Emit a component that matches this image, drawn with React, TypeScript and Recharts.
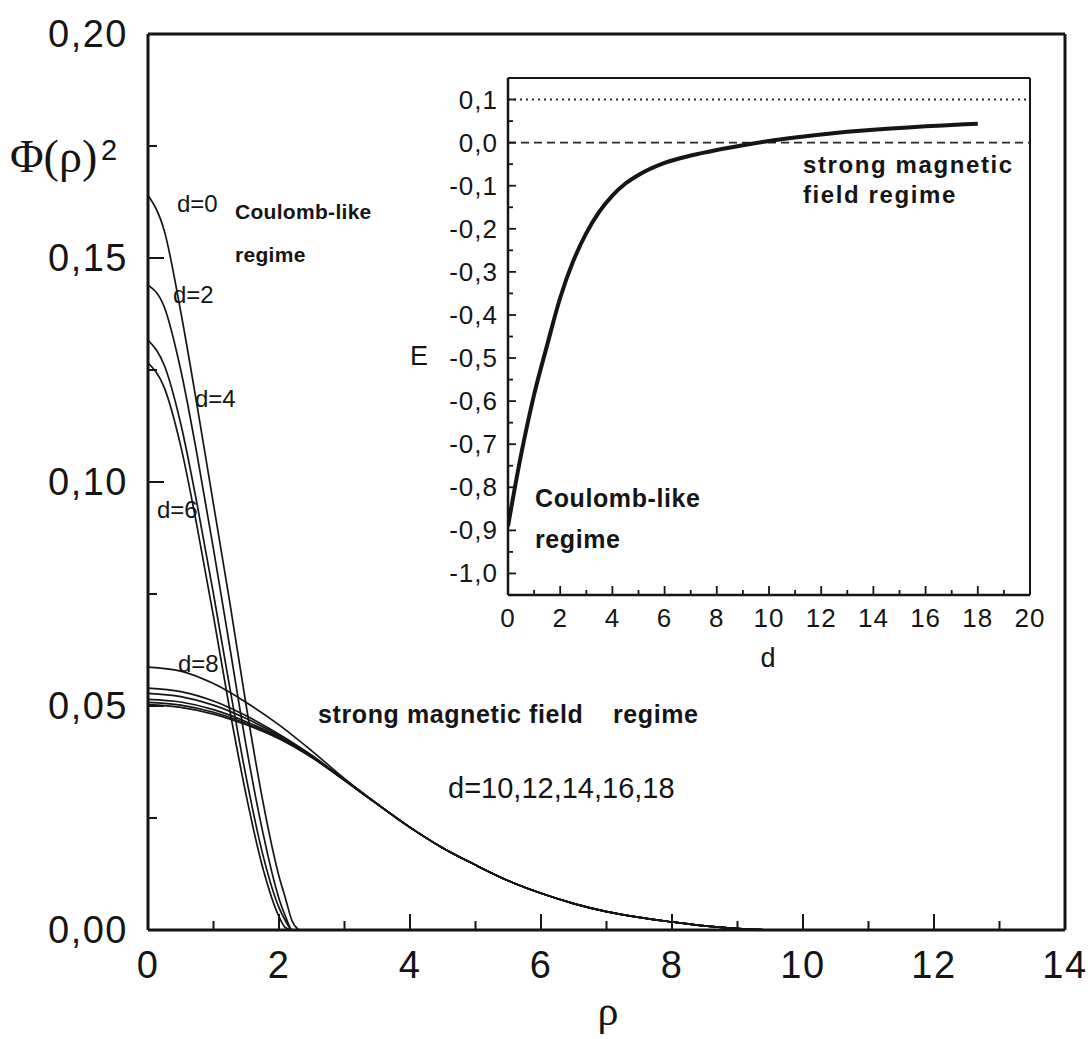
import React from 'react';
import { LineChart, Line, XAxis, YAxis, ReferenceLine } from 'recharts';

// ---------- Main chart data: |Phi(rho)|^2 for different d ----------
const rhoNarrow = [0, 0.25, 0.5, 0.75, 1.0, 1.25, 1.5, 1.75, 2.0, 2.1, 2.2, 2.3];
const phiD0 = [0.164, 0.156, 0.138, 0.117, 0.095, 0.073, 0.050, 0.029, 0.012, 0.007, 0.002, 0.0];
const phiD2 = [0.144, 0.139, 0.125, 0.106, 0.085, 0.063, 0.041, 0.022, 0.007, 0.003, 0.0, 0.0];
const phiD4 = [0.1317, 0.126, 0.113, 0.095, 0.075, 0.054, 0.034, 0.017, 0.005, 0.002, 0.0, 0.0];
const phiD6 = [0.1266, 0.121, 0.108, 0.090, 0.070, 0.049, 0.030, 0.014, 0.003, 0.0005, 0.0, 0.0];

const rhoBroad = [0, 0.5, 1, 1.5, 2, 2.5, 3, 3.5, 4, 4.5, 5, 5.5, 6, 6.5, 7, 7.5, 8, 8.5, 9, 9.5];
const phiD8 = [0.0587, 0.0578, 0.0550, 0.0508, 0.0458, 0.0400, 0.0338, 0.0282, 0.0229, 0.0183, 0.0145, 0.0110, 0.0082, 0.0059, 0.0041, 0.0028, 0.0018, 0.0009, 0.0003, 0.0];
const phiD10 = [0.0540, 0.0532, 0.0511, 0.0478, 0.0437, 0.0390, 0.0335, 0.0281, 0.0229, 0.0183, 0.0145, 0.0110, 0.0082, 0.0059, 0.0041, 0.0028, 0.0018, 0.0009, 0.0003, 0.0];
const phiD12 = [0.0528, 0.0521, 0.0502, 0.0472, 0.0434, 0.0388, 0.0335, 0.0281, 0.0229, 0.0183, 0.0145, 0.0110, 0.0082, 0.0059, 0.0041, 0.0028, 0.0018, 0.0009, 0.0003, 0.0];
const phiD14 = [0.0515, 0.0509, 0.0492, 0.0465, 0.0431, 0.0387, 0.0334, 0.0281, 0.0229, 0.0183, 0.0145, 0.0110, 0.0082, 0.0059, 0.0041, 0.0028, 0.0018, 0.0009, 0.0003, 0.0];
const phiD16 = [0.0508, 0.0502, 0.0486, 0.0461, 0.0429, 0.0386, 0.0334, 0.0281, 0.0229, 0.0183, 0.0145, 0.0110, 0.0082, 0.0059, 0.0041, 0.0028, 0.0018, 0.0009, 0.0003, 0.0];
const phiD18 = [0.0503, 0.0497, 0.0482, 0.0458, 0.0427, 0.0385, 0.0334, 0.0281, 0.0229, 0.0183, 0.0145, 0.0110, 0.0082, 0.0059, 0.0041, 0.0028, 0.0018, 0.0009, 0.0003, 0.0];

const mainXTicks = [0, 1, 2, 3, 4, 5, 6, 7, 8, 9, 10, 11, 12, 13, 14];
const mainYTicks = [0, 0.025, 0.05, 0.075, 0.1, 0.125, 0.15, 0.175, 0.2];

// ---------- Inset data: E(d) ----------
const dVals = [0, 0.5, 1, 1.5, 2, 2.5, 3, 3.5, 4, 4.5, 5, 6, 7, 8, 9, 10, 11, 12, 13, 14, 15, 16, 17, 18];
const eVals = [-0.89, -0.725, -0.585, -0.47, -0.36, -0.275, -0.21, -0.16, -0.123, -0.095, -0.075, -0.047, -0.030, -0.017, -0.006, 0.004, 0.012, 0.019, 0.025, 0.030, 0.034, 0.038, 0.041, 0.044];
const insetXTicks = [0, 1, 2, 3, 4, 5, 6, 7, 8, 9, 10, 11, 12, 13, 14, 15, 16, 17, 18, 19, 20];
const insetYTicks = [-1.0, -0.95, -0.9, -0.85, -0.8, -0.75, -0.7, -0.65, -0.6, -0.55, -0.5, -0.45, -0.4, -0.35, -0.3, -0.25, -0.2, -0.15, -0.1, -0.05, 0.0, 0.05, 0.1];

const SANS = '"Liberation Sans", Arial, Helvetica, sans-serif';
const SERIF = '"Liberation Serif", "DejaVu Serif", "Times New Roman", serif';
const INK = '#151515';

const toPts = (xs: number[], ys: number[]) => xs.map((x, i) => ({ x, y: ys[i] }));
const isMajor = (v: number, step: number) => Math.abs(v / step - Math.round(v / step)) < 1e-6;

const mainSeries = [
  { key: 'd0', data: toPts(rhoNarrow, phiD0) },
  { key: 'd2', data: toPts(rhoNarrow, phiD2) },
  { key: 'd4', data: toPts(rhoNarrow, phiD4) },
  { key: 'd6', data: toPts(rhoNarrow, phiD6) },
  { key: 'd8', data: toPts(rhoBroad, phiD8) },
  { key: 'd10', data: toPts(rhoBroad, phiD10) },
  { key: 'd12', data: toPts(rhoBroad, phiD12) },
  { key: 'd14', data: toPts(rhoBroad, phiD14) },
  { key: 'd16', data: toPts(rhoBroad, phiD16) },
  { key: 'd18', data: toPts(rhoBroad, phiD18) },
];
const insetData = toPts(dVals, eVals);

const MainYTick = (p: any) => {
  const { x, y, payload } = p;
  const v = payload.value as number;
  const ax = x + 20;
  const major = isMajor(v, 0.05);
  return (
    <g>
      <line x1={ax} x2={ax + (major ? 16 : 9)} y1={y} y2={y} stroke={INK} strokeWidth={2} />
      {major && (
        <text x={x} y={y + 13} textAnchor="end" fontFamily={SANS} fontSize={38} letterSpacing={1.5} fill={INK}>
          {v.toFixed(2).replace('.', ',')}
        </text>
      )}
    </g>
  );
};

const MainXTick = (p: any) => {
  const { x, y, payload } = p;
  const v = payload.value as number;
  const major = isMajor(v, 2);
  return (
    <g>
      <line x1={x} x2={x} y1={y} y2={y - (major ? 16 : 9)} stroke={INK} strokeWidth={2} />
      {major && (
        <text x={x} y={y + 48} textAnchor="middle" fontFamily={SANS} fontSize={38} letterSpacing={1.5} fill={INK}>
          {String(v)}
        </text>
      )}
    </g>
  );
};

const InsetYTick = (p: any) => {
  const { x, y, payload } = p;
  const v = payload.value as number;
  const ax = x + 10;
  const major = isMajor(v, 0.1);
  return (
    <g>
      <line x1={ax} x2={ax + (major ? 8 : 5)} y1={y} y2={y} stroke={INK} strokeWidth={1.8} />
      {major && (
        <text x={x} y={y + 9} textAnchor="end" fontFamily={SANS} fontSize={26} letterSpacing={1} fill={INK}>
          {v.toFixed(1).replace('.', ',')}
        </text>
      )}
    </g>
  );
};

const InsetXTick = (p: any) => {
  const { x, y, payload } = p;
  const v = payload.value as number;
  const major = isMajor(v, 2);
  return (
    <g>
      <line x1={x} x2={x} y1={y} y2={y - (major ? 9 : 5)} stroke={INK} strokeWidth={1.8} />
      {major && (
        <text x={x} y={y + 32} textAnchor="middle" fontFamily={SANS} fontSize={26} letterSpacing={1} fill={INK}>
          {String(v)}
        </text>
      )}
    </g>
  );
};

const T = (props: any) => <text fill={INK} fontFamily={SANS} {...props} />;

export default function App() {
  return (
    <div style={{ position: 'absolute', left: 0, top: 0, width: 1092, height: 1039, background: '#fff', overflow: 'hidden' }}>
      <div style={{ position: 'absolute', left: 0, top: 0 }}>
        <LineChart width={1092} height={1039} margin={{ top: 34, right: 27, bottom: 49, left: 0 }}>
          <XAxis
            type="number"
            dataKey="x"
            domain={[0, 14]}
            ticks={mainXTicks}
            interval={0}
            tickSize={0}
            tickMargin={0}
            tick={MainXTick}
            axisLine={{ stroke: INK, strokeWidth: 3 }}
            height={60}
            allowDataOverflow
          />
          <YAxis
            type="number"
            domain={[0, 0.2]}
            ticks={mainYTicks}
            interval={0}
            tickSize={0}
            tickMargin={20}
            tick={MainYTick}
            axisLine={{ stroke: INK, strokeWidth: 3 }}
            width={148}
            allowDataOverflow
          />
          <ReferenceLine y={0.2} stroke={INK} strokeWidth={3} />
          <ReferenceLine x={14} stroke={INK} strokeWidth={3} />
          {mainSeries.map((s) => (
            <Line
              key={s.key}
              data={s.data}
              dataKey="y"
              type="monotone"
              stroke={INK}
              strokeWidth={1.7}
              dot={false}
              isAnimationActive={false}
            />
          ))}
        </LineChart>
      </div>

      <div style={{ position: 'absolute', left: 400, top: 60 }}>
        <LineChart width={660} height={620} margin={{ top: 18, right: 30, bottom: 25, left: 0 }}>
          <XAxis
            type="number"
            dataKey="x"
            domain={[0, 20]}
            ticks={insetXTicks}
            interval={0}
            tickSize={0}
            tickMargin={0}
            tick={InsetXTick}
            axisLine={{ stroke: INK, strokeWidth: 2.5 }}
            height={60}
            allowDataOverflow
          />
          <YAxis
            type="number"
            domain={[-1.05, 0.15]}
            ticks={insetYTicks}
            interval={0}
            tickSize={0}
            tickMargin={10}
            tick={InsetYTick}
            axisLine={{ stroke: INK, strokeWidth: 2.5 }}
            width={108}
            allowDataOverflow
          />
          <ReferenceLine y={0.15} stroke={INK} strokeWidth={2} />
          <ReferenceLine x={20} stroke={INK} strokeWidth={2} />
          <ReferenceLine y={0.1} stroke="#3b2340" strokeWidth={2} strokeDasharray="2 4" />
          <ReferenceLine y={0} stroke="#203020" strokeWidth={1.8} strokeDasharray="8 5" />
          <Line
            data={insetData}
            dataKey="y"
            type="monotone"
            stroke={INK}
            strokeWidth={4}
            dot={false}
            isAnimationActive={false}
          />
        </LineChart>
      </div>

      <svg width={1092} height={1039} style={{ position: 'absolute', left: 0, top: 0, pointerEvents: 'none' }}>
        {/* Main y-axis label */}
        <text x={10} y={172} fontFamily={SERIF} fontSize={46} fill={INK}>Φ(ρ)</text>
        <T x={101} y={160} fontSize={29}>2</T>
        {/* Main x-axis label */}
        <text x={608} y={1025} textAnchor="middle" fontFamily={SERIF} fontSize={42} fill={INK}>ρ</text>

        {/* Curve labels */}
        <T x={177} y={212} fontSize={24}>d=0</T>
        <T x={235} y={219} fontSize={21} fontWeight="bold" letterSpacing={0.3}>Coulomb-like</T>
        <T x={235} y={262} fontSize={21} fontWeight="bold" letterSpacing={0.3}>regime</T>
        <T x={173} y={303} fontSize={24}>d=2</T>
        <T x={195} y={407} fontSize={24}>d=4</T>
        <T x={157} y={518} fontSize={24}>d=6</T>
        <T x={178} y={672} fontSize={24}>d=8</T>
        <T x={318} y={723} fontSize={25} fontWeight="bold" letterSpacing={0.6}>strong magnetic field</T>
        <T x={613} y={723} fontSize={25} fontWeight="bold" letterSpacing={0.6}>regime</T>
        <T x={448} y={798} fontSize={29}>d=10,12,14,16,18</T>

        {/* Inset labels */}
        <T x={410} y={365} fontSize={27}>E</T>
        <T x={768} y={667} fontSize={27} textAnchor="middle">d</T>
        <T x={803} y={173} fontSize={24} fontWeight="bold" letterSpacing={1.6}>strong magnetic</T>
        <T x={803} y={203} fontSize={24} fontWeight="bold" letterSpacing={1.6}>field  regime</T>
        <T x={535} y={507} fontSize={25} fontWeight="bold" letterSpacing={0.6}>Coulomb-like</T>
        <T x={535} y={548} fontSize={25} fontWeight="bold" letterSpacing={0.6}>regime</T>
      </svg>
    </div>
  );
}
